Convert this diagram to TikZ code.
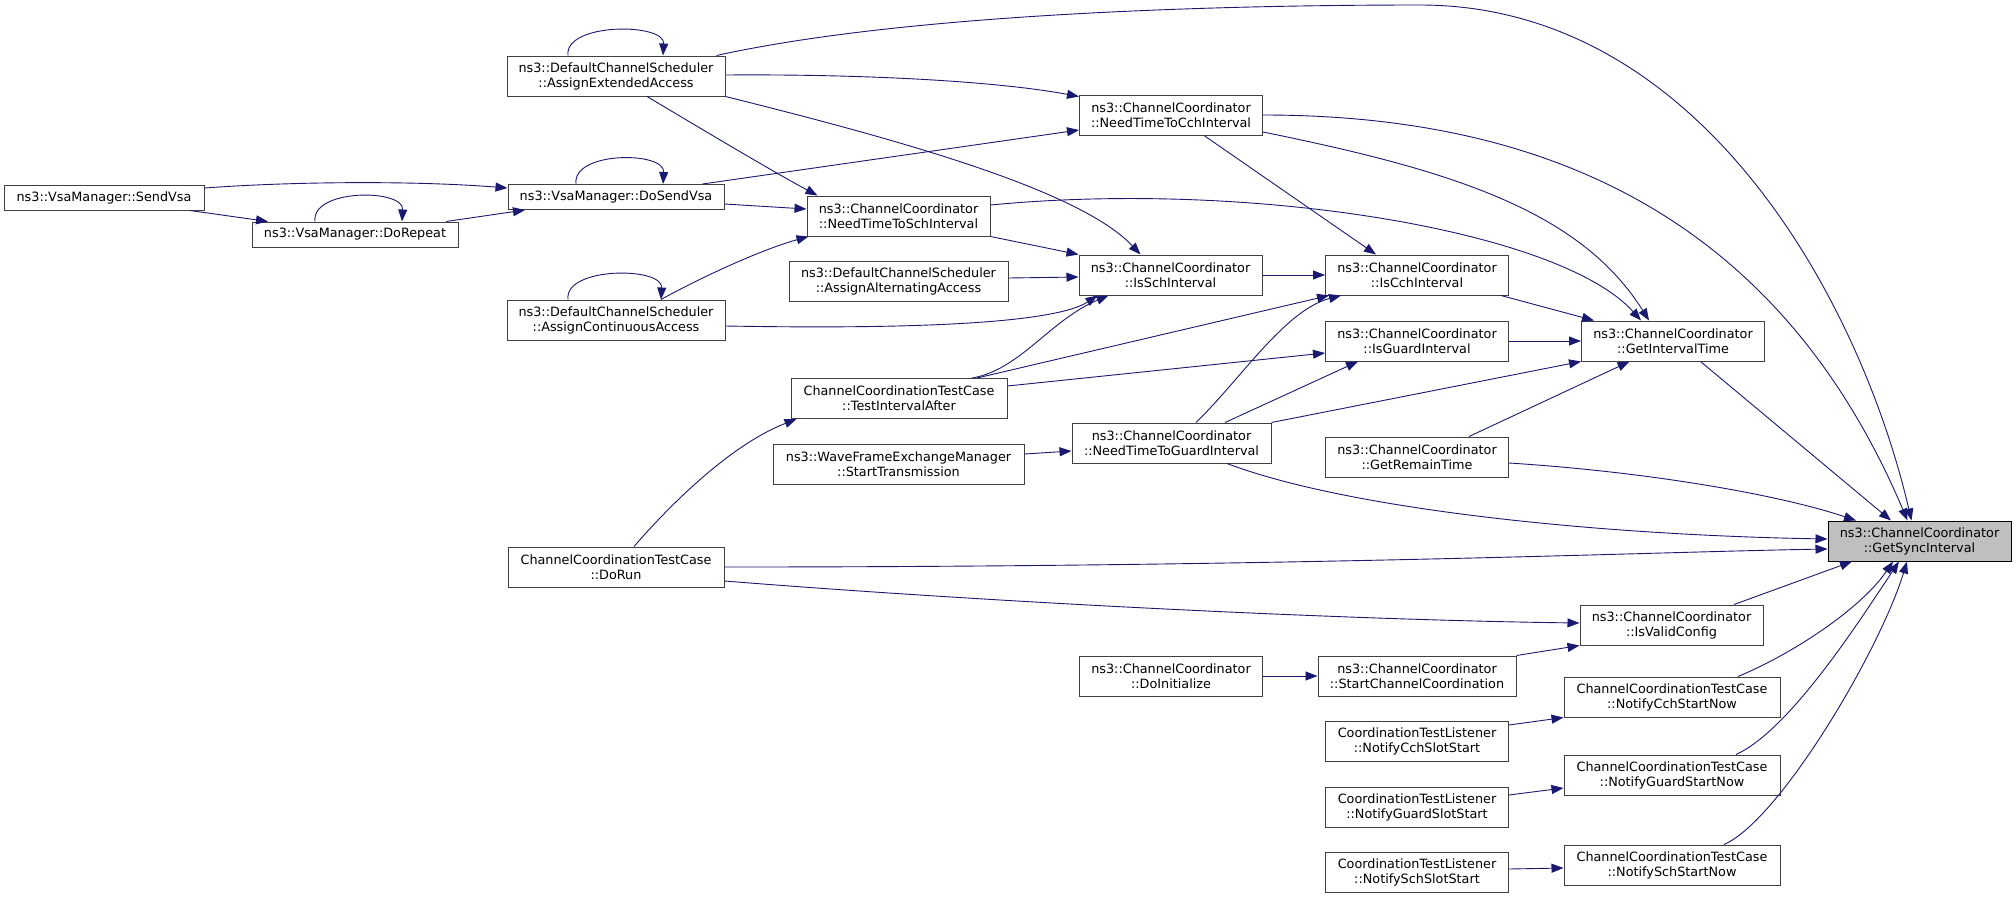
\documentclass[tikz,border=0pt]{standalone}
\usepackage{fontspec}
\setmainfont{DejaVu Sans}
\usetikzlibrary{positioning,arrows.meta}
\definecolor{edgeblue}{HTML}{191970}
\definecolor{boxline}{HTML}{404040}
\definecolor{hlfill}{HTML}{BFBFBF}

\begin{document}
\begin{tikzpicture}[
	x=1pt, y=-1pt,
	fn/.style={
		draw=boxline,
		rectangle,
		fill=white,
		line width=1pt,
		align=center,
		inner sep=0pt,
		minimum width=#1,
		minimum height=40pt,
		font=\fontsize{12.8}{15}\selectfont
	},
	fn/.default=183pt,
	one/.style={fn=#1, minimum height=25pt},
	hl/.style={fn, fill=hlfill, draw=black},
	arrow/.style={-{Triangle[length=12pt,width=9pt]}, line width=0.9pt, draw=edgeblue}
	]

	\path[use as bounding box, fill=white] (0,0) rectangle (2016,898);

	\node[fn=218pt] (aea) at (616,76) {ns3::DefaultChannelScheduler\\::AssignExtendedAccess};
	\node[one=200pt] (sendvsa) at (104,197.5) {ns3::VsaManager::SendVsa};
	\node[one=206pt] (dorepeat) at (355,234.5) {ns3::VsaManager::DoRepeat};
	\node[one=216pt] (dosendvsa) at (616,197) {ns3::VsaManager::DoSendVsa};
	\node[fn=218pt] (aca) at (616,320) {ns3::DefaultChannelScheduler\\::AssignContinuousAccess};
	\node[fn] (ntcch) at (1171,115) {ns3::ChannelCoordinator\\::NeedTimeToCchInterval};
	\node[fn] (ntsch) at (898.5,216) {ns3::ChannelCoordinator\\::NeedTimeToSchInterval};
	\node[fn=219pt] (altacc) at (898.5,281) {ns3::DefaultChannelScheduler\\::AssignAlternatingAccess};
	\node[fn] (issch) at (1170.5,275) {ns3::ChannelCoordinator\\::IsSchInterval};
	\node[fn] (iscch) at (1417,275) {ns3::ChannelCoordinator\\::IsCchInterval};
	\node[fn, below=25pt of iscch] (isguard) {ns3::ChannelCoordinator\\::IsGuardInterval};
	\node[fn, right=72pt of isguard] (git) {ns3::ChannelCoordinator\\::GetIntervalTime};
	\node[fn=216pt] (tia) at (899,398.5) {ChannelCoordinationTestCase\\::TestIntervalAfter};
	\node[fn=251pt] (starttx) at (898.5,464) {ns3::WaveFrameExchangeManager\\::StartTransmission};
	\node[fn=199pt] (ntguard) at (1171.5,443) {ns3::ChannelCoordinator\\::NeedTimeToGuardInterval};
	\node[fn] (remain) at (1417,457) {ns3::ChannelCoordinator\\::GetRemainTime};
	\node[hl] (gsi) at (1919.5,541) {ns3::ChannelCoordinator\\::GetSyncInterval};
	\node[fn=216pt] (dorun) at (616,567) {ChannelCoordinationTestCase\\::DoRun};
	\node[fn] (valid) at (1671.5,625) {ns3::ChannelCoordinator\\::IsValidConfig};
	\node[fn] (doinit) at (1171,676) {ns3::ChannelCoordinator\\::DoInitialize};
	\node[fn=198pt] (startcc) at (1417,676) {ns3::ChannelCoordinator\\::StartChannelCoordination};
	\node[fn=216pt] (ncchnow) at (1672,697) {ChannelCoordinationTestCase\\::NotifyCchStartNow};
	\node[fn] (ncchslot) at (1417,741) {CoordinationTestListener\\::NotifyCchSlotStart};
	\node[fn=216pt] (nguardnow) at (1672,775) {ChannelCoordinationTestCase\\::NotifyGuardStartNow};
	\node[fn] (nguardslot) at (1417,807) {CoordinationTestListener\\::NotifyGuardSlotStart};
	\node[fn=216pt] (nschnow) at (1672,865) {ChannelCoordinationTestCase\\::NotifySchStartNow};
	\node[fn] (nschslot) at (1417,872) {CoordinationTestListener\\::NotifySchSlotStart};

	% self calls
	\draw[arrow] ([xshift=-48pt]aea.north) .. controls +(-4,-33) and +(2,-33) .. ([xshift=47pt]aea.north);
	\draw[arrow] ([xshift=-40pt]dosendvsa.north) .. controls +(-4,-33) and +(2,-33) .. ([xshift=47pt]dosendvsa.north);
	\draw[arrow] ([xshift=-40pt]dorepeat.north) .. controls +(-4,-33) and +(2,-33) .. ([xshift=47pt]dorepeat.north);
	\draw[arrow] ([xshift=-48pt]aca.north) .. controls +(-4,-33) and +(2,-33) .. ([xshift=45pt]aca.north);

	\draw[arrow] ([yshift=9.5pt]sendvsa.east) .. controls (300,181) and (420,181) .. ([yshift=9pt]dosendvsa.west);
	\draw[arrow] ([xshift=86pt]sendvsa.south) -- ([xshift=-87pt]dorepeat.north);
	\draw[arrow] ([xshift=91pt]dorepeat.north) -- ([xshift=-91pt]dosendvsa.south);
	\draw[arrow] ([yshift=1pt]aea.east) .. controls (850,74) and (990,80) .. ([yshift=-2pt]ntcch.north west);
	\draw[arrow] ([xshift=31pt]aea.south) .. controls (700,128) and (770,170) .. ([xshift=11pt]ntsch.north west);
	\draw[arrow] (aea.south east) .. controls (900,140) and (1080,190) .. ([xshift=-30pt]issch.north);
	\draw[arrow] ([xshift=-9pt]aea.north east) .. controls (900,15) and (1200,5) .. (1420,5) .. controls (1700,5) and (1860,300) .. ([xshift=-8pt]gsi.north);
	\draw[arrow] ([xshift=-22pt]dosendvsa.north east) -- ([yshift=-15pt]ntcch.west);
	\draw[arrow] ([yshift=-7pt]dosendvsa.east) -- ([yshift=7pt]ntsch.west);
	\draw[arrow] ([xshift=45pt]aca.north) .. controls (700,278) and (760,250) .. ([xshift=2pt]ntsch.south west);
	\draw[arrow] ([yshift=-6pt]aca.east) .. controls (950,330) and (1060,320) .. ([xshift=-73pt]issch.south);
	\draw[arrow] (ntsch.south east) -- (issch.north west);
	\draw[arrow] ([yshift=11pt]ntsch.east) .. controls (1250,180) and (1560,230) .. ([xshift=-32pt]git.north);
	\draw[arrow] ([yshift=3pt]altacc.east) -- ([yshift=-2pt]issch.west);
	\draw[arrow] (ntcch.east) .. controls (1550,115) and (1780,220) .. ([xshift=-12pt]gsi.north);
	\draw[arrow] ([yshift=-17pt]ntcch.east) .. controls (1450,170) and (1580,210) .. ([xshift=-24pt]git.north);
	\draw[arrow] ([xshift=33pt]ntcch.south) -- ([xshift=-41pt]iscch.north);
	\draw[arrow] (issch.east) -- (iscch.west);
	\draw[arrow] ([xshift=-8pt]iscch.south east) -- ([xshift=13pt]git.north west);
	\draw[arrow] (isguard.east) -- (git.west);
	\draw[arrow] ([xshift=73pt]tia.north) .. controls (1020,370) and (1050,320) .. ([xshift=-62pt]issch.south);
	\draw[arrow] ([xshift=78pt]tia.north) -- ([xshift=4pt]iscch.south west);
	\draw[arrow] ([yshift=12.5pt]tia.east) -- ([yshift=-12pt]isguard.west);
	\draw[arrow] ([xshift=18pt]dorun.north) .. controls (670,505) and (730,445) .. ([xshift=6pt]tia.south west);
	\draw[arrow] ([yshift=10pt]starttx.east) -- ([yshift=-8pt]ntguard.west);
	\draw[arrow] ([xshift=24.5pt]ntguard.north) .. controls (1240,380) and (1285,310) .. ([xshift=16pt]iscch.south west);
	\draw[arrow] ([xshift=53.5pt]ntguard.north) -- ([xshift=-59pt]isguard.south);
	\draw[arrow] (ntguard.north east) -- (git.south west);
	\draw[arrow] ([xshift=55.5pt]ntguard.south) .. controls (1350,510) and (1600,535) .. ([yshift=2pt]gsi.west);
	\draw[arrow] ([xshift=52pt]remain.north) -- ([xshift=-43.5pt]git.south);
	\draw[arrow] ([yshift=-6pt]remain.east) .. controls (1650,472) and (1780,495) .. ([xshift=-63.5pt]gsi.north);
	\draw[arrow] ([xshift=27.5pt]git.south) -- ([xshift=-28.5pt]gsi.north);
	\draw[arrow] (dorun.east) .. controls (1300,567) and (1650,552) .. ([yshift=-8pt]gsi.west);
	\draw[arrow] ([yshift=-14pt]dorun.east) .. controls (1000,603) and (1350,620) .. ([yshift=2pt]valid.west);
	\draw[arrow] (doinit.east) -- (startcc.west);
	\draw[arrow] (startcc.north east) -- (valid.south west);
	\draw[arrow] ([xshift=62.5pt]valid.north) -- ([xshift=-67.5pt]gsi.south);
	\draw[arrow] ([xshift=66pt]ncchnow.north) .. controls (1790,655) and (1860,610) .. ([xshift=-26.5pt]gsi.south);
	\draw[arrow] ([xshift=64pt]nguardnow.north) .. controls (1790,730) and (1860,620) .. ([xshift=-20.5pt]gsi.south);
	\draw[arrow] ([xshift=52pt]nschnow.north) .. controls (1780,820) and (1880,650) .. ([xshift=-12.5pt]gsi.south);
	\draw[arrow] ([yshift=16pt]ncchslot.east) -- (ncchnow.south west);
	\draw[arrow] ([yshift=12pt]nguardslot.east) -- ([yshift=-13pt]nguardnow.west);
	\draw[arrow] ([yshift=3pt]nschslot.east) -- ([yshift=-3pt]nschnow.west);

\end{tikzpicture}
\end{document}
